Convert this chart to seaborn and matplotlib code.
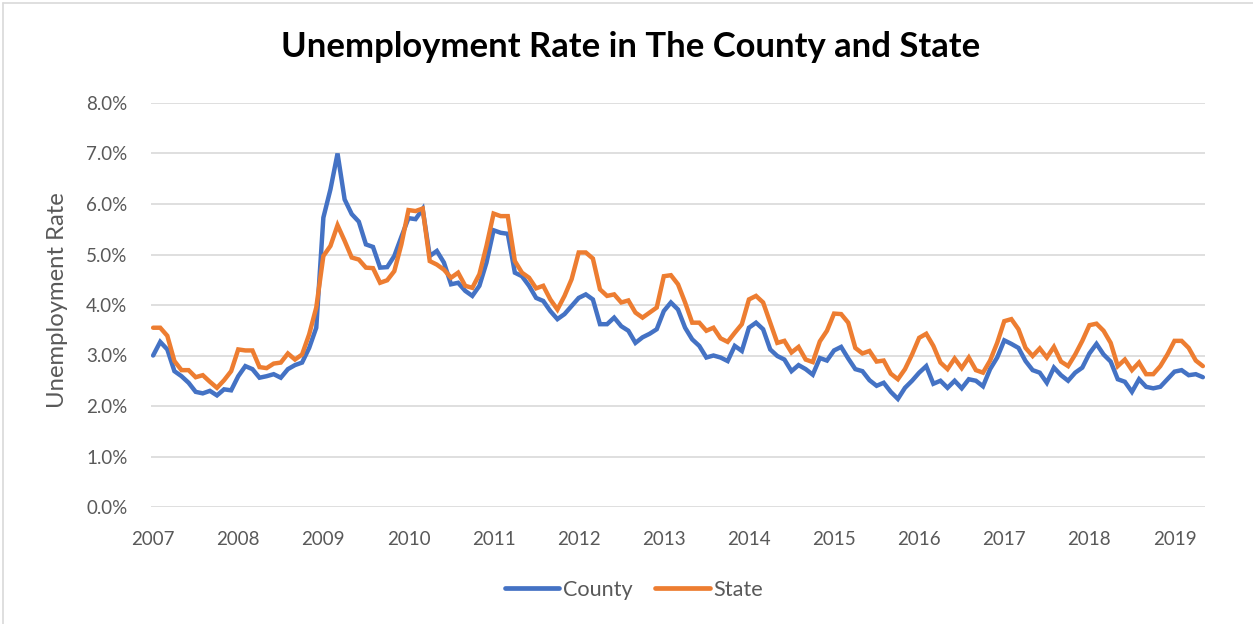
import numpy as np
import pandas as pd
import matplotlib
matplotlib.use("Agg")
import matplotlib.pyplot as plt
from matplotlib.ticker import PercentFormatter, FixedLocator
from matplotlib.lines import Line2D
import seaborn as sns

# Monthly unemployment rates (%), Jan 2007 - May 2019
county = [
    3.00, 3.27, 3.12, 2.69, 2.59, 2.46, 2.28, 2.25, 2.30, 2.21, 2.33, 2.31,   # 2007
    2.59, 2.79, 2.73, 2.56, 2.59, 2.63, 2.56, 2.73, 2.81, 2.86, 3.15, 3.55,   # 2008
    5.73, 6.29, 7.00, 6.09, 5.80, 5.65, 5.20, 5.15, 4.74, 4.75, 4.97, 5.35,   # 2009
    5.72, 5.70, 5.90, 4.97, 5.07, 4.84, 4.41, 4.44, 4.28, 4.18, 4.38, 4.84,   # 2010
    5.48, 5.43, 5.41, 4.64, 4.57, 4.38, 4.14, 4.08, 3.88, 3.72, 3.82, 3.98,   # 2011
    4.14, 4.21, 4.11, 3.62, 3.62, 3.75, 3.58, 3.49, 3.25, 3.36, 3.43, 3.52,   # 2012
    3.88, 4.05, 3.91, 3.55, 3.32, 3.19, 2.96, 3.00, 2.96, 2.89, 3.19, 3.09,   # 2013
    3.55, 3.65, 3.52, 3.12, 2.99, 2.92, 2.69, 2.81, 2.73, 2.62, 2.95, 2.90,   # 2014
    3.10, 3.17, 2.94, 2.73, 2.69, 2.51, 2.40, 2.46, 2.28, 2.14, 2.36, 2.50,   # 2015
    2.66, 2.79, 2.44, 2.50, 2.36, 2.50, 2.35, 2.53, 2.50, 2.39, 2.73, 2.96,   # 2016
    3.30, 3.23, 3.15, 2.89, 2.71, 2.66, 2.46, 2.76, 2.61, 2.50, 2.66, 2.76,   # 2017
    3.04, 3.23, 3.02, 2.88, 2.53, 2.48, 2.28, 2.53, 2.38, 2.35, 2.38, 2.53,   # 2018
    2.68, 2.71, 2.61, 2.63, 2.57,                                             # 2019
]
state = [
    3.55, 3.55, 3.39, 2.89, 2.71, 2.71, 2.57, 2.61, 2.48, 2.36, 2.51, 2.69,   # 2007
    3.12, 3.10, 3.10, 2.77, 2.75, 2.84, 2.86, 3.04, 2.92, 3.02, 3.42, 3.95,   # 2008
    4.97, 5.17, 5.58, 5.27, 4.94, 4.90, 4.74, 4.73, 4.44, 4.49, 4.67, 5.20,   # 2009
    5.88, 5.86, 5.91, 4.87, 4.80, 4.70, 4.54, 4.64, 4.38, 4.34, 4.61, 5.17,   # 2010
    5.81, 5.76, 5.76, 4.87, 4.64, 4.54, 4.33, 4.38, 4.11, 3.91, 4.18, 4.51,   # 2011
    5.04, 5.04, 4.92, 4.31, 4.18, 4.21, 4.05, 4.09, 3.85, 3.75, 3.85, 3.95,   # 2012
    4.57, 4.59, 4.41, 4.05, 3.65, 3.65, 3.49, 3.55, 3.34, 3.27, 3.45, 3.62,   # 2013
    4.11, 4.18, 4.05, 3.65, 3.25, 3.29, 3.06, 3.17, 2.92, 2.87, 3.28, 3.49,   # 2014
    3.83, 3.82, 3.65, 3.15, 3.04, 3.09, 2.88, 2.90, 2.64, 2.53, 2.73, 3.02,   # 2015
    3.35, 3.43, 3.19, 2.86, 2.73, 2.94, 2.75, 2.96, 2.71, 2.66, 2.90, 3.25,   # 2016
    3.68, 3.72, 3.52, 3.15, 2.99, 3.14, 2.96, 3.17, 2.88, 2.79, 3.02, 3.29,   # 2017
    3.60, 3.63, 3.49, 3.25, 2.79, 2.92, 2.71, 2.86, 2.63, 2.63, 2.79, 3.02,   # 2018
    3.29, 3.29, 3.15, 2.90, 2.79,                                             # 2019
]
year_labels = [str(y) for y in range(2007, 2020)]
series_names = ["County", "State"]
series_colors = ["#4472C4", "#ED7D31"]

months = np.arange(len(county))
df = pd.DataFrame({
    "month": np.concatenate([months, months]),
    "rate": np.array(county + state) / 100.0,
    "series": ["County"] * len(county) + ["State"] * len(state),
})

sns.set_theme(style="white")
plt.rcParams["font.family"] = ["Lato", "DejaVu Sans"]

W, H = 1253, 624
fig = plt.figure(figsize=(W / 100, H / 100), dpi=100)
ax = fig.add_axes([151 / W, 1 - 507 / H, (1205 - 151) / W, (507 - 103) / H])

sns.lineplot(
    data=df, x="month", y="rate", hue="series",
    palette=dict(zip(series_names, series_colors)),
    hue_order=series_names, linewidth=3.2, legend=False, ax=ax,
    solid_joinstyle="miter",
)

ax.set_ylim(0, 0.08)
ax.set_xlim(-0.3, len(county) - 0.7)
ax.yaxis.set_major_locator(FixedLocator(np.arange(0, 0.081, 0.01)))
ax.yaxis.set_major_formatter(PercentFormatter(xmax=1, decimals=1))
ax.set_xticks(np.arange(0, len(county), 12))
ax.set_xticklabels(year_labels)
ax.grid(axis="y", color="#d9d9d9", linewidth=1.2)
ax.set_axisbelow(True)
for s in ax.spines.values():
    s.set_visible(False)
ax.tick_params(axis="both", length=0, labelsize=13.5, colors="#595959")
ax.tick_params(axis="y", pad=17)
ax.tick_params(axis="x", pad=17)
ax.set_xlabel("")
ax.set_ylabel("")

fig.text(57.5 / W, 1 - 300 / H, "Unemployment Rate", rotation=90,
         ha="center", va="center", fontsize=17.2, color="#595959")
fig.text(631 / W, 1 - 47 / H, "Unemployment Rate in The County and State",
         ha="center", va="center", fontsize=24.9, fontweight="bold", color="black")

handles = [Line2D([], [], color=c, linewidth=3.4, solid_capstyle="round") for c in series_colors]
fig.legend(handles, series_names, loc="center", bbox_to_anchor=(634 / W, 1 - 590 / H),
           ncol=2, frameon=False, fontsize=15.6, labelcolor="#595959",
           handlelength=2.5, handletextpad=0.18, columnspacing=1.06)

# chart frame
fig.add_artist(Line2D([3 / W, 3 / W], [0, 1 - 3 / H], color="#d9d9d9", linewidth=1.2,
                      transform=fig.transFigure))
fig.add_artist(Line2D([3 / W, 1], [1 - 3 / H, 1 - 3 / H], color="#d9d9d9", linewidth=1.2,
                      transform=fig.transFigure))

fig.savefig("out.png", dpi=100)
